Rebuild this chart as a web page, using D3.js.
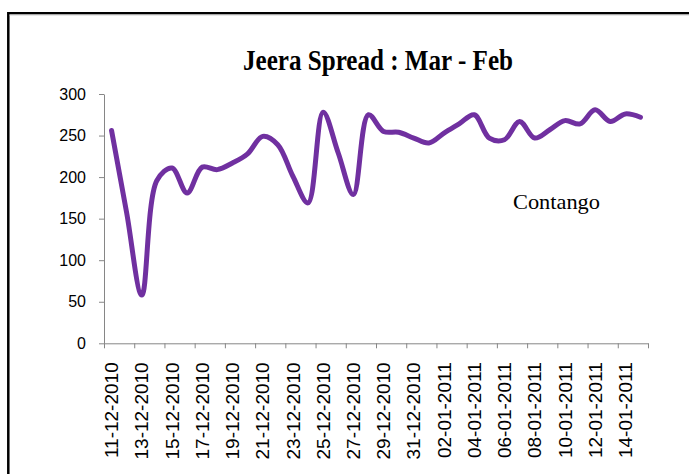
<!DOCTYPE html>
<meta charset="utf-8">
<style>
body { margin: 0; background: #fff; }
.line { fill: none; stroke: #7030a0; stroke-width: 5px; stroke-linejoin: round; stroke-linecap: round; }
.axis path, .axis line { stroke: #868686; }
.axis text { fill: #000; font-family: "Liberation Sans", Arial, sans-serif; }
</style>
<svg width="689" height="474"></svg>
<script src="https://cdn.jsdelivr.net/npm/d3@7"></script>
<script>

// one value per calendar day, 11-12-2010 .. 15-01-2011
var dates = [
  "11-12-2010","12-12-2010","13-12-2010","14-12-2010","15-12-2010","16-12-2010",
  "17-12-2010","18-12-2010","19-12-2010","20-12-2010","21-12-2010","22-12-2010",
  "23-12-2010","24-12-2010","25-12-2010","26-12-2010","27-12-2010","28-12-2010",
  "29-12-2010","30-12-2010","31-12-2010","01-01-2011","02-01-2011","03-01-2011",
  "04-01-2011","05-01-2011","06-01-2011","07-01-2011","08-01-2011","09-01-2011",
  "10-01-2011","11-01-2011","12-01-2011","13-01-2011","14-01-2011","15-01-2011"
];
var spread = [
  256, 157, 58, 196, 211, 181,
  212, 209, 217, 228, 249, 239,
  201, 169, 278, 229, 179, 275,
  255, 254, 247, 241, 253, 264,
  275, 247, 245, 267, 247, 257,
  268, 264, 281, 267, 276, 272
];
var tickLabels = dates.filter(function(d, i) { return i % 2 === 0 && i < 35; });
var yTicks = [0, 50, 100, 150, 200, 250, 300];

var svg = d3.select("svg"),
    plotLeft = 104, plotRight = 648, plotTop = 94, plotBottom = 343.3;

// chart frame (only top and left edges are inside the picture)
svg.append("path")
    .attr("d", "M8.3,480V13.3H700")
    .attr("fill", "none")
    .attr("stroke", "#000")
    .attr("stroke-width", 2.5);
svg.append("line")
    .attr("x1", 9.5).attr("x2", 700).attr("y1", 15).attr("y2", 15)
    .attr("stroke", "#d0d0d0").attr("stroke-width", 1);

var x = d3.scaleBand().domain(dates).range([plotLeft, plotRight]),
    xEdge = d3.scaleLinear().domain([0, dates.length]).range([plotLeft, plotRight]),
    y = d3.scaleLinear().domain([0, 300]).range([plotBottom, plotTop]);

svg.append("g")
    .attr("class", "axis")
    .attr("transform", "translate(" + plotLeft + ",0)")
    .call(d3.axisLeft(y).tickValues(yTicks).tickSize(5).tickSizeOuter(0).tickPadding(13))
    .selectAll("text").style("font-size", "16px");

svg.append("g")
    .attr("class", "axis")
    .attr("transform", "translate(0," + plotBottom + ")")
    .call(d3.axisBottom(xEdge).tickValues(d3.range(0, dates.length + 1, 2)).tickFormat("").tickSize(5).tickSizeOuter(0));

var xl = svg.append("g")
    .attr("class", "axis")
    .attr("transform", "translate(0," + plotBottom + ")")
    .call(d3.axisBottom(x).tickValues(tickLabels).tickSize(0));
xl.select(".domain").remove();
xl.selectAll("text")
    .style("font-size", "19px")
    .attr("transform", "rotate(-90)")
    .attr("text-anchor", "end")
    .attr("x", -19)
    .attr("y", 0)
    .attr("dy", "0.35em");

var line = d3.line()
    .curve(d3.curveCatmullRom)
    .x(function(d, i) { return x(dates[i]) + x.bandwidth() / 2; })
    .y(function(d) { return y(d); });

svg.append("path")
    .attr("class", "line")
    .attr("d", line(spread));

svg.append("text")
    .attr("x", 378)
    .attr("y", 70)
    .attr("text-anchor", "middle")
    .attr("textLength", 270)
    .attr("lengthAdjust", "spacingAndGlyphs")
    .style("font-family", "'Liberation Serif', 'DejaVu Serif', serif")
    .style("font-weight", "bold")
    .style("font-size", "30px")
    .text("Jeera Spread : Mar - Feb");

svg.append("text")
    .attr("x", 513)
    .attr("y", 209)
    .attr("textLength", 87)
    .attr("lengthAdjust", "spacingAndGlyphs")
    .style("font-family", "'Liberation Serif', 'DejaVu Serif', serif")
    .style("font-size", "21px")
    .text("Contango");

</script>
